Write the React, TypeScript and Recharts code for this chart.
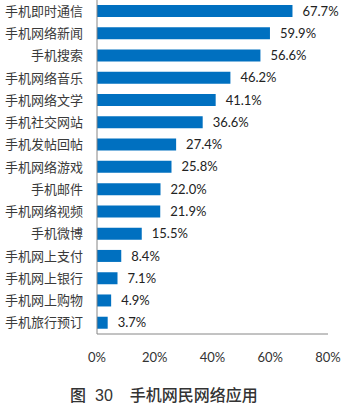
import { BarChart, Bar, XAxis, YAxis, LabelList } from "recharts";

const categories = [
  "手机即时通信",
  "手机网络新闻",
  "手机搜索",
  "手机网络音乐",
  "手机网络文学",
  "手机社交网站",
  "手机发帖回帖",
  "手机网络游戏",
  "手机邮件",
  "手机网络视频",
  "手机微博",
  "手机网上支付",
  "手机网上银行",
  "手机网上购物",
  "手机旅行预订",
];

const usage = [67.7, 59.9, 56.6, 46.2, 41.1, 36.6, 27.4, 25.8, 22.0, 21.9, 15.5, 8.4, 7.1, 4.9, 3.7];

const xTicks = [0, 20, 40, 60, 80];

const FONT = "Lato, 'Noto Sans CJK SC', sans-serif";

export default function App() {
  const data = categories.map((name, i) => ({ name, value: usage[i] }));

  return (
    <div style={{ position: "absolute", left: 0, top: 0, width: 361, height: 412, background: "#fff" }}>
      <BarChart
        width={361}
        height={370}
        data={data}
        layout="vertical"
        margin={{ top: 0, right: 33, bottom: 0, left: 0 }}
        barSize={12}
      >
        <XAxis
          type="number"
          domain={[0, 80]}
          ticks={xTicks}
          tickFormatter={(v) => `${v}%`}
          height={36}
          tickSize={0}
          tickMargin={19}
          axisLine={{ stroke: "#868686" }}
          tick={{ fill: "#333", fontSize: 13, fontFamily: FONT }}
        />
        <YAxis
          type="category"
          dataKey="name"
          width={97}
          tickSize={0}
          tickMargin={14}
          axisLine={{ stroke: "#868686" }}
          tick={{ fill: "#3a3a3a", fontSize: 13, fontFamily: "'Noto Sans CJK SC', sans-serif" }}
          interval={0}
        />
        <Bar dataKey="value" fill="#0070C0" isAnimationActive={false}>
          <LabelList
            dataKey="value"
            position="right"
            offset={10}
            formatter={(v: any) => `${Number(v).toFixed(1)}%`}
            style={{ fill: "#222", fontSize: 13, fontFamily: FONT }}
          />
        </Bar>
      </BarChart>
      <div
        style={{
          position: "absolute",
          left: 70,
          top: 382,
          fontSize: 16,
          fontWeight: 500,
          color: "#333",
          fontFamily: "'Noto Sans CJK SC', sans-serif",
          whiteSpace: "pre",
        }}
      >
        <span>图</span>
        <span style={{ marginLeft: 9, fontFamily: "'Liberation Sans', sans-serif" }}>30</span>
        <span style={{ marginLeft: 17 }}>手机网民网络应用</span>
      </div>
    </div>
  );
}
